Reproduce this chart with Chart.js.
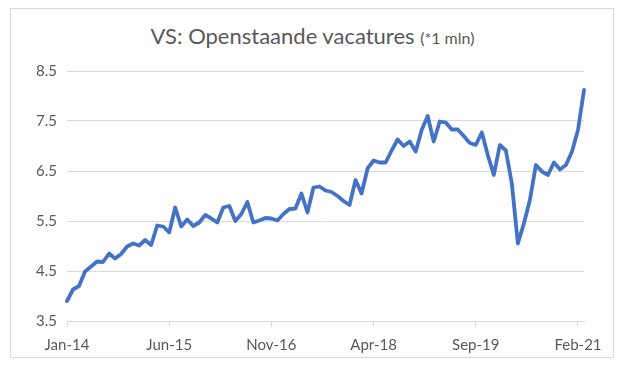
<!DOCTYPE html>
<html>
<head>
<meta charset="utf-8">
<script src="https://cdn.jsdelivr.net/npm/chart.js@4"></script>
<style>
  html, body { margin: 0; padding: 0; background: #ffffff; }
  body { width: 625px; height: 379px; position: relative; overflow: hidden; font-family: Lato, "Open Sans", sans-serif; }
  #frame { position: absolute; left: 10px; top: 8px; width: 604px; height: 350px; border: 1px solid #d9d9d9; box-sizing: border-box; }
  #title { position: absolute; left: 0; width: 625px; top: 22px; text-align: center; color: #595959; font-size: 22px; white-space: nowrap; }
  #title small { font-size: 16px; }
  #wrap { position: absolute; left: 0; top: 0; width: 625px; height: 379px; }
</style>
</head>
<body>
<div id="frame"></div>
<div id="title">VS: Openstaande vacatures <small>(*1 mln)</small></div>
<div id="wrap"><canvas id="c" width="625" height="379"></canvas></div>
<script>
// Data: US job openings (millions), monthly Jan-14 .. Mar-21
const monthNames = ["Jan","Feb","Mar","Apr","May","Jun","Jul","Aug","Sep","Oct","Nov","Dec"];
const years = ["14","15","16","17","18","19","20","21"];
const openings = [
  3.90, 4.13, 4.20, 4.49, 4.59, 4.69, 4.68, 4.85, 4.75, 4.84, 4.99, 5.05,
  5.01, 5.12, 5.02, 5.41, 5.39, 5.27, 5.77, 5.39, 5.53, 5.40, 5.47, 5.62,
  5.55, 5.47, 5.77, 5.80, 5.50, 5.64, 5.88, 5.47, 5.51, 5.56, 5.55, 5.51,
  5.64, 5.74, 5.75, 6.05, 5.67, 6.17, 6.19, 6.11, 6.08, 6.00, 5.90, 5.82,
  6.32, 6.05, 6.55, 6.71, 6.67, 6.67, 6.91, 7.13, 7.00, 7.09, 6.89, 7.32,
  7.60, 7.09, 7.49, 7.47, 7.33, 7.33, 7.20, 7.06, 7.02, 7.27, 6.82, 6.42,
  7.02, 6.91, 6.25, 5.05, 5.45, 5.92, 6.62, 6.49, 6.42, 6.67, 6.53, 6.62,
  6.89, 7.32, 8.12
];
const shownTicks = ["Jan-14","Jun-15","Nov-16","Apr-18","Sep-19","Feb-21"];
const yTicks = [3.5, 4.5, 5.5, 6.5, 7.5, 8.5];

const labels = [];
for (let i = 0; i < openings.length; i++) {
  labels.push(monthNames[i % 12] + "-" + years[Math.floor(i / 12)]);
}

const textColor = "#595959";
const gridColor = "#d9d9d9";

new Chart(document.getElementById("c"), {
  type: "line",
  data: {
    labels: labels,
    datasets: [{
      data: openings,
      borderColor: "#4472C4",
      borderWidth: 3.8,
      pointRadius: 0,
      pointHoverRadius: 0,
      tension: 0,
      fill: false,
      borderJoinStyle: "round",
      borderCapStyle: "round"
    }]
  },
  options: {
    responsive: false,
    animation: false,
    events: [],
    layout: { padding: { top: 71, right: 41, bottom: 18, left: 0 } },
    plugins: { legend: { display: false }, tooltip: { enabled: false }, title: { display: false } },
    scales: {
      x: {
        type: "category",
        offset: false,
        afterFit: (s) => { s.height = 40; },
        border: { display: true, color: gridColor, width: 1 },
        grid: {
          display: true,
          drawOnChartArea: false,
          drawTicks: true,
          tickLength: 6,
          color: (ctx) => shownTicks.includes(labels[ctx.index]) ? gridColor : "rgba(0,0,0,0)"
        },
        ticks: {
          autoSkip: false,
          maxRotation: 0,
          minRotation: 0,
          padding: 9,
          color: textColor,
          font: { family: "Lato", size: 15 },
          callback: function (v, i) { return shownTicks.includes(labels[i]) ? labels[i] : ""; }
        }
      },
      y: {
        min: 3.5,
        max: 8.5,
        afterFit: (s) => { s.width = 67; },
        afterBuildTicks: (s) => { s.ticks = yTicks.map(v => ({ value: v })); },
        border: { display: false },
        grid: { color: gridColor, lineWidth: 1, drawTicks: false },
        ticks: {
          padding: 10,
          color: textColor,
          font: { family: "Lato", size: 15 },
          callback: (v) => Number(v).toFixed(1)
        }
      }
    }
  }
});
</script>
</body>
</html>
